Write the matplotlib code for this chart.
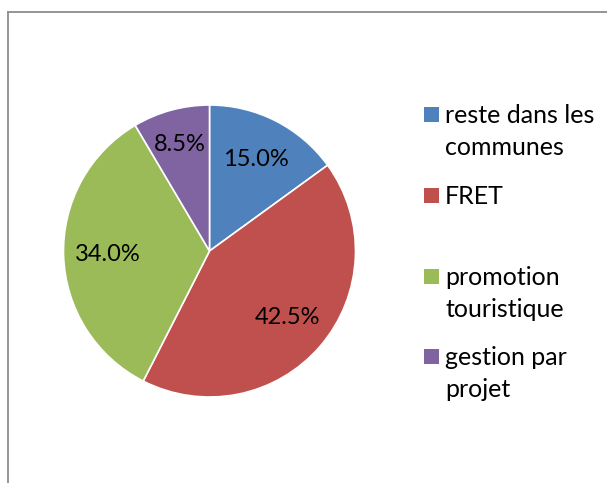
import matplotlib.pyplot as plt
from matplotlib.patches import Rectangle
from matplotlib.lines import Line2D

# Data
labels = ["reste dans les\ncommunes", "FRET", "promotion\ntouristique", "gestion par\nprojet"]
values = [15.0, 42.5, 34.0, 8.5]
colors = ["#4F81BD", "#C0504D", "#9BBB59", "#8064A2"]

plt.rcParams['font.family'] = ['Lato', 'DejaVu Sans']

W, H = 607, 483
fig = plt.figure(figsize=(W / 100, H / 100), dpi=100)

# pie axes: center (209.5, 251), radius 146 px
cx, cy, r = 209.5, 251, 146
ax = fig.add_axes([(cx - r) / W, 1 - (cy + r) / H, 2 * r / W, 2 * r / H])
wedges, texts, autotexts = ax.pie(values, colors=colors, startangle=90, counterclock=False,
                                  autopct="%1.1f%%", pctdistance=0.70, radius=1,
                                  wedgeprops=dict(edgecolor="white", linewidth=1.2),
                                  textprops=dict(fontsize=17, color="black"))
autotexts[3].set_position((-0.20, 0.73))
ax.set_xlim(-1, 1)
ax.set_ylim(-1, 1)
ax.set_aspect("equal")

# chart frame (top and left visible)
fig.add_artist(Line2D([7.5 / W, 7.5 / W], [0, 1 - 12 / H], transform=fig.transFigure,
                      color="#8c8c8c", linewidth=1.3))
fig.add_artist(Line2D([7.5 / W, 1], [1 - 12 / H, 1 - 12 / H], transform=fig.transFigure,
                      color="#8c8c8c", linewidth=1.3))

# legend
sq_tops = [107, 188, 269, 349]
for lab, col, top in zip(labels, colors, sq_tops):
    fig.add_artist(Rectangle((424 / W, 1 - (top + 15) / H), 15 / W, 15 / H,
                             transform=fig.transFigure, facecolor=col, edgecolor="none"))
    fig.text(445 / W, 1 - (top - 3) / H, lab, fontsize=18, va="top", ha="left",
             linespacing=1.48)

fig.savefig("out.png", dpi=100, facecolor="white")
